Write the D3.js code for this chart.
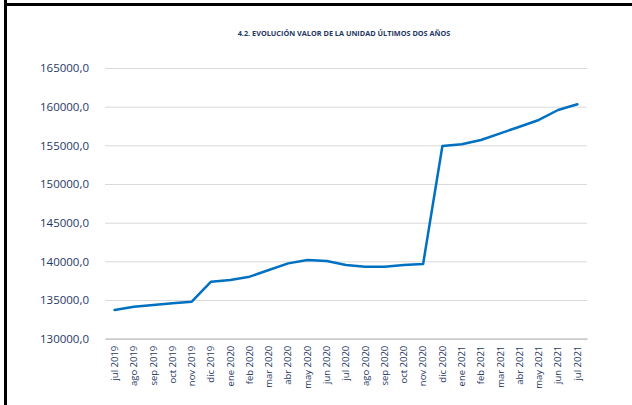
<!DOCTYPE html>
<html><head><meta charset="utf-8">
<script src="https://cdn.jsdelivr.net/npm/d3@7"></script>
<style>html,body{margin:0;padding:0;background:#fff;}svg{display:block;}</style>
</head><body><svg id="c" width="632" height="405"></svg>
<script>
const title = "4.2. EVOLUCIÓN VALOR DE LA UNIDAD ÚLTIMOS DOS AÑOS";
const months = ["jul 2019","ago 2019","sep 2019","oct 2019","nov 2019","dic 2019","ene 2020","feb 2020","mar 2020","abr 2020","may 2020","jun 2020","jul 2020","ago 2020","sep 2020","oct 2020","nov 2020","dic 2020","ene 2021","feb 2021","mar 2021","abr 2021","may 2021","jun 2021","jul 2021"];
const values = [133710,134140,134350,134570,134780,137370,137590,138020,138880,139740,140170,140040,139530,139310,139310,139530,139660,154910,155130,155690,156550,157410,158280,159570,160310];
const yTicks = [130000,135000,140000,145000,150000,155000,160000,165000];

const svg = d3.select("#c");
const M = {l:105, r:587, t:68, b:338.7};
const x = d3.scaleBand().domain(months).range([M.l, M.r]);
const y = d3.scaleLinear().domain([130000,165000]).range([M.b, M.t]);
const fmt = v => d3.format(".1f")(v).replace(".", ",");

// frame lines
svg.append("rect").attr("x",4).attr("y",0).attr("width",3).attr("height",405).attr("fill","#000");
svg.append("rect").attr("x",7).attr("y",3).attr("width",625).attr("height",3).attr("fill","#000");

svg.append("text").attr("x",344).attr("y",36).attr("text-anchor","middle")
  .attr("font-family","'Open Sans',sans-serif").attr("font-weight","bold").attr("font-size",7.3)
  .attr("fill","#1f3864").text(title);

// grid
const yAxis = d3.axisLeft(y).tickValues(yTicks).tickSize(-(M.r-M.l)).tickPadding(16).tickFormat(fmt);
const gy = svg.append("g").attr("transform",`translate(${M.l},0)`).call(yAxis);
gy.select(".domain").remove();
gy.selectAll(".tick line").attr("stroke","#d9d9d9").attr("stroke-width",1);
gy.selectAll(".tick text").attr("font-family","'Open Sans',sans-serif").attr("font-size",11.5).attr("fill","#1f3864");

const xAxis = d3.axisBottom(x).tickSize(0).tickPadding(0);
const gx = svg.append("g").attr("transform",`translate(0,${M.b})`).call(xAxis);
gx.select(".domain").attr("stroke","#bfbfbf").attr("stroke-width",1.2);
gx.selectAll(".tick text").attr("font-family","'Open Sans',sans-serif").attr("font-size",9.5).attr("fill","#1f3864")
  .attr("transform","rotate(-90)").attr("text-anchor","end").attr("x",-7).attr("y",0).attr("dy","0.35em");

const line = d3.line().x((d,i)=>x(months[i])+x.bandwidth()/2).y(d=>y(d));
svg.append("path").datum(values).attr("d",line).attr("fill","none").attr("stroke","#0070c0")
  .attr("stroke-width",2.5).attr("stroke-linejoin","round").attr("stroke-linecap","round");
</script></body></html>
